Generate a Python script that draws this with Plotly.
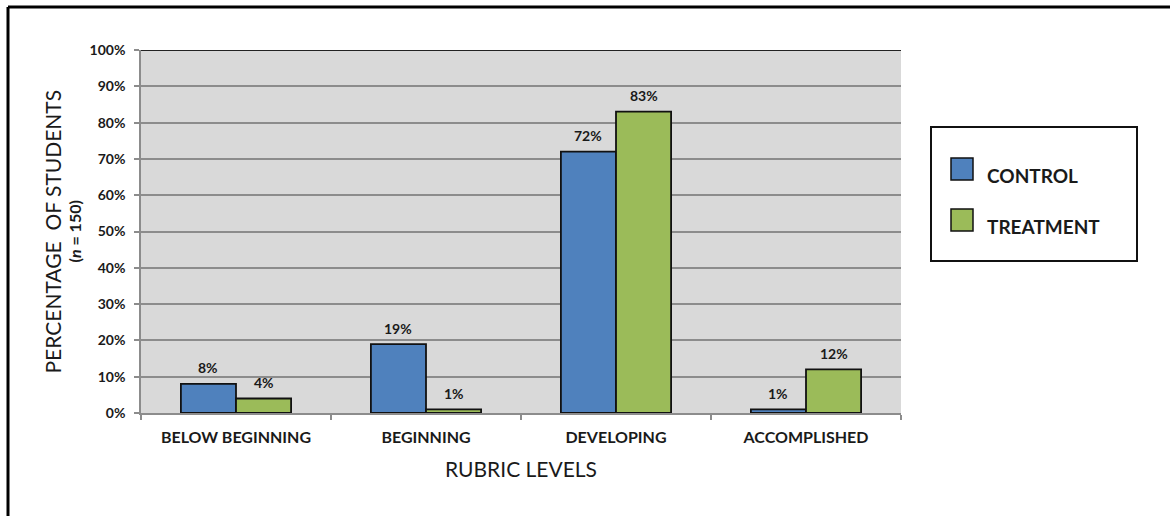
import plotly.graph_objects as go

# ---- data -------------------------------------------------------------
rubric_levels = ["BELOW BEGINNING", "BEGINNING", "DEVELOPING", "ACCOMPLISHED"]
control_pct = [8, 19, 72, 1]
treatment_pct = [4, 1, 83, 12]
series_names = ["CONTROL", "TREATMENT"]
y_ticks = [0, 10, 20, 30, 40, 50, 60, 70, 80, 90, 100]
y_tick_labels = [f"{v}%" for v in y_ticks]

# ---- layout geometry (pixels) -----------------------------------------
W, H = 1170, 516
L, R, T, B = 141, 269, 50, 103
PW, PH = W - L - R, H - T - B

BLUE = "#4f81bd"
GREEN = "#9bbb59"
GRID = "#8c8c8c"
INK = "#1a1a1a"
FONT = "Lato"


def px_x(px):
    return (px - L) / PW


def px_y(py):
    return (H - B - py) / PH


fig = go.Figure()
for name, vals, col in [(series_names[0], control_pct, BLUE),
                        (series_names[1], treatment_pct, GREEN)]:
    fig.add_trace(go.Bar(
        name=name, x=rubric_levels, y=vals,
        marker=dict(color=col, line=dict(color="#111111", width=1.8)),
        showlegend=False,
    ))

# value labels above each bar
bar_px = PW / len(rubric_levels) * (1 - 0.42) / 2
for vals, sign in [(control_pct, -1), (treatment_pct, 1)]:
    for cat, v in zip(rubric_levels, vals):
        fig.add_annotation(
            x=cat, y=v, xref="x", yref="y", text=f"{v}%", showarrow=False,
            xshift=sign * bar_px / 2, yshift=16, yanchor="middle",
            font=dict(family=FONT, size=14, color=INK, weight="bold"),
        )

# y-axis title (two lines)
fig.add_annotation(
    x=px_x(52), y=0.5, xref="paper", yref="paper", textangle=-90,
    text="PERCENTAGE  OF STUDENTS", showarrow=False,
    font=dict(family=FONT, size=21, color=INK),
    xanchor="center", yanchor="middle",
)
fig.add_annotation(
    x=px_x(74), y=0.5, xref="paper", yref="paper", textangle=-90,
    text="(<i>n</i> = 150)", showarrow=False,
    font=dict(family=FONT, size=16, color=INK, weight="bold"),
    xanchor="center", yanchor="middle",
)

# x-axis title
fig.add_annotation(
    x=0.5, y=px_y(468), xref="paper", yref="paper", text="RUBRIC LEVELS",
    showarrow=False, font=dict(family=FONT, size=21, color=INK),
    xanchor="center", yanchor="middle",
)

# legend box with swatches
shapes = [
    dict(type="rect", xref="paper", yref="paper",
         x0=px_x(931), x1=px_x(1137), y0=px_y(261), y1=px_y(127),
         line=dict(color="#111111", width=2), fillcolor="white"),
]
for name, col, top in [(series_names[0], BLUE, 158), (series_names[1], GREEN, 209)]:
    shapes.append(dict(type="rect", xref="paper", yref="paper",
                       x0=px_x(951), x1=px_x(973), y0=px_y(top + 22), y1=px_y(top),
                       line=dict(color="#111111", width=1.5), fillcolor=col))
    fig.add_annotation(
        x=px_x(985), y=px_y(top + 17), xref="paper", yref="paper", text=name,
        showarrow=False, xanchor="left", yanchor="middle",
        font=dict(family=FONT, size=19, color=INK, weight="bold"),
    )

# darker line along the top of the plot area
shapes.append(dict(type="line", xref="x domain", yref="y", x0=0, x1=1, y0=100, y1=100,
                   line=dict(color="#222222", width=2)))

# outer frame (top and left edges)
shapes.append(dict(type="line", xref="paper", yref="paper",
                   x0=px_x(8), x1=px_x(W + 5), y0=px_y(7), y1=px_y(7),
                   line=dict(color="black", width=3)))
shapes.append(dict(type="line", xref="paper", yref="paper",
                   x0=px_x(8), x1=px_x(8), y0=px_y(7), y1=px_y(H + 5),
                   line=dict(color="black", width=3)))

fig.update_layout(
    width=W, height=H,
    margin=dict(l=L, r=R, t=T, b=B, pad=0),
    paper_bgcolor="white", plot_bgcolor="#d9d9d9",
    barmode="group", bargap=0.42, bargroupgap=0,
    shapes=shapes,
    font=dict(family=FONT, color=INK),
)
fig.update_xaxes(
    type="category", tickson="boundaries", ticks="outside", ticklen=5,
    tickcolor=GRID, tickwidth=1.5, showline=True, linecolor=GRID, linewidth=1.5,
    showgrid=False, tickfont=dict(family=FONT, size=16, color=INK, weight="bold"),
    ticklabelstandoff=9,
)
fig.update_yaxes(
    range=[0, 100], tickvals=y_ticks, ticktext=y_tick_labels,
    ticks="outside", ticklen=5, tickcolor=GRID, tickwidth=1.5,
    showline=True, linecolor=GRID, linewidth=1.5,
    showgrid=True, gridcolor=GRID, gridwidth=1.5, zeroline=False,
    tickfont=dict(family=FONT, size=14, color=INK, weight="bold"),
    ticklabelstandoff=6,
)

fig.write_html("out.html")
